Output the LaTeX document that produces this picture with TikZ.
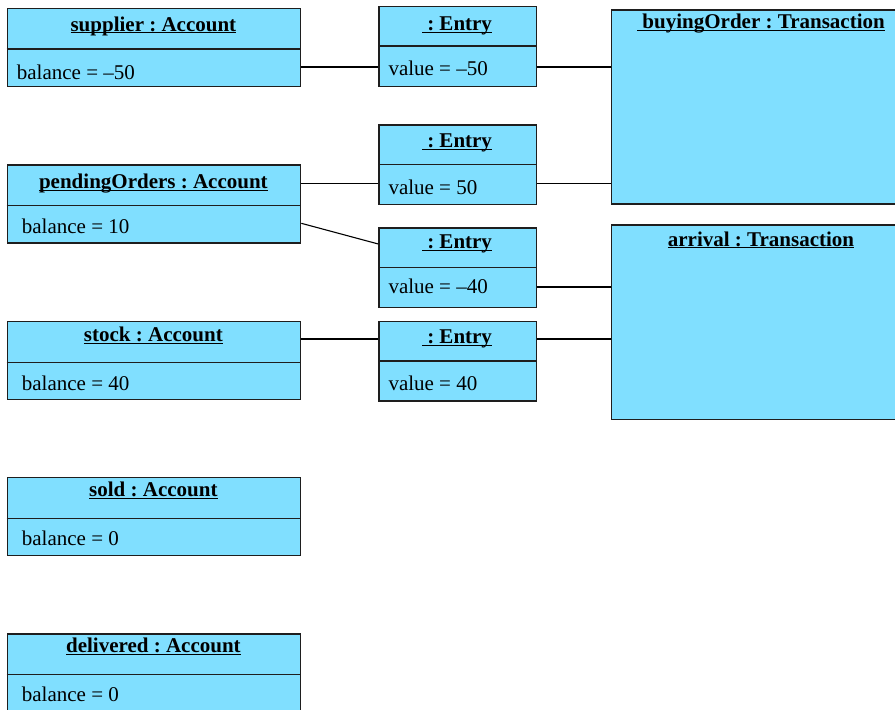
\documentclass[tikz,border=0pt]{standalone}
\usepackage{fontspec}
\setmainfont{Liberation Serif}
\frenchspacing
\definecolor{objfill}{RGB}{128,223,255}
\definecolor{objline}{RGB}{30,30,30}
\newcommand\ulx[1]{\setbox0\hbox{#1}\rlap{\rule[-2.4pt]{\wd0}{1.2pt}}\box0}
\tikzset{
  objbox/.style={draw=objline, fill=objfill, line width=1.3pt, inner sep=0pt, anchor=north west},
  divline/.style={draw=objline, line width=1.3pt},
  conn/.style={draw=black, line width=1.1pt},
  titletext/.style={anchor=base, inner sep=0pt, font=\fontsize{21}{25}\selectfont\bfseries\frenchspacing},
  bodytext/.style={anchor=base west, inner sep=0pt, font=\fontsize{21}{25}\selectfont\frenchspacing}
}
% account box: name, top, title offset, title, body, body x, body offset
\newcommand\accbox[7]{%
  \node[objbox, minimum width=293.3pt, minimum height=78pt] (#1) at (6.7,#2) {};
  \draw[divline] (#1.west |- 0,#2+41.5) -- (#1.east |- 0,#2+41.5);
  \node[titletext] (#1-t) at (153.4,#2+#3) {\ulx{#4}};
  \node[bodytext] (#1-b) at (#6,#2+#7) {#5};
}
% entry box: name, top, title offset, body, body offset
\newcommand\entbox[5]{%
  \node[objbox, minimum width=157.4pt, minimum height=79.6pt] (#1) at (378.3,#2) {};
  \draw[divline] (#1.west |- 0,#2+40.2) -- (#1.east |- 0,#2+40.2);
  \node[titletext] (#1-t) at (457,#2+#3) {\ulx{\ : Entry}};
  \node[bodytext] (#1-b) at (388.3,#2+#5) {#4};
}
\begin{document}
\begin{tikzpicture}[x=1pt,y=-1pt]
\useasboundingbox (0,0) rectangle (895,710);

% accounts
\accbox{sup}{7.5}{23.5}{supplier : Account}{balance = –50}{16.7}{71.5}
\accbox{pend}{164.3}{24}{pendingOrders : Account}{balance = 10}{21.7}{69}
\accbox{stock}{321}{20.5}{stock : Account}{balance = 40}{21.7}{69}
\accbox{sold}{476.7}{20}{sold : Account}{balance = 0}{21.7}{68.5}
\accbox{deliv}{633.3}{19.5}{delivered : Account}{balance = 0}{21.7}{68.5}

% entries
\entbox{e1}{5.9}{24.8}{value = –50}{70}
\entbox{e2}{124.3}{23}{value = 50}{69.7}
\entbox{e3}{227.3}{21.5}{value = –40}{66.5}
\entbox{e4}{320.7}{22.6}{value = 40}{69.3}

% transactions
\node[objbox, minimum width=300.3pt, minimum height=194pt] (buy) at (610.7,9.3) {};
\node[titletext] (buy-t) at (761,28.3) {\ulx{\ buyingOrder : Transaction}};
\node[objbox, minimum width=300.3pt, minimum height=194.4pt] (arr) at (610.7,224.3) {};
\node[titletext] (arr-t) at (761,246) {\ulx{arrival : Transaction}};

% connector heights
\coordinate (h1) at (0,67);
\coordinate (h2) at (0,183.2);
\coordinate (h3a) at (0,223.3);
\coordinate (h3b) at (0,244);
\coordinate (h4) at (0,287);
\coordinate (h5) at (0,339);

\draw[conn] (sup.east |- h1) -- (e1.west |- h1);
\draw[conn] (e1.east |- h1) -- (buy.west |- h1);
\draw[conn] (pend.east |- h2) -- (e2.west |- h2);
\draw[conn] (e2.east |- h2) -- (buy.west |- h2);
\draw[conn] (pend.east |- h3a) -- (e3.west |- h3b);
\draw[conn] (e3.east |- h4) -- (arr.west |- h4);
\draw[conn] (stock.east |- h5) -- (e4.west |- h5);
\draw[conn] (e4.east |- h5) -- (arr.west |- h5);
\end{tikzpicture}
\end{document}
